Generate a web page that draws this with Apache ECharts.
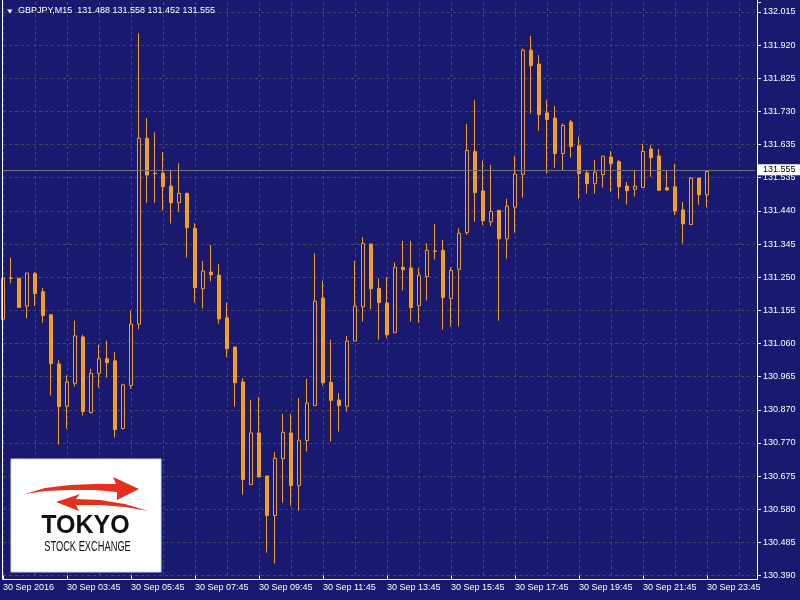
<!DOCTYPE html>
<html><head><meta charset="utf-8">
<style>html,body{margin:0;padding:0;background:#191970;}#c{width:800px;height:600px;}</style>
<script src="https://cdn.jsdelivr.net/npm/echarts@6.0.0/dist/echarts.min.js"></script>
</head><body><div id="c"></div>
<script>
const symbol = 'GBPJPY';
const period = 'M15';
const times = [
'30 Sep 01:45',
'30 Sep 02:00','30 Sep 02:15','30 Sep 02:30','30 Sep 02:45',
'30 Sep 03:00','30 Sep 03:15','30 Sep 03:30','30 Sep 03:45',
'30 Sep 04:00','30 Sep 04:15','30 Sep 04:30','30 Sep 04:45',
'30 Sep 05:00','30 Sep 05:15','30 Sep 05:30','30 Sep 05:45',
'30 Sep 06:00','30 Sep 06:15','30 Sep 06:30','30 Sep 06:45',
'30 Sep 07:00','30 Sep 07:15','30 Sep 07:30','30 Sep 07:45',
'30 Sep 08:00','30 Sep 08:15','30 Sep 08:30','30 Sep 08:45',
'30 Sep 09:00','30 Sep 09:15','30 Sep 09:30','30 Sep 09:45',
'30 Sep 10:00','30 Sep 10:15','30 Sep 10:30','30 Sep 10:45',
'30 Sep 11:00','30 Sep 11:15','30 Sep 11:30','30 Sep 11:45',
'30 Sep 12:00','30 Sep 12:15','30 Sep 12:30','30 Sep 12:45',
'30 Sep 13:00','30 Sep 13:15','30 Sep 13:30','30 Sep 13:45',
'30 Sep 14:00','30 Sep 14:15','30 Sep 14:30','30 Sep 14:45',
'30 Sep 15:00','30 Sep 15:15','30 Sep 15:30','30 Sep 15:45',
'30 Sep 16:00','30 Sep 16:15','30 Sep 16:30','30 Sep 16:45',
'30 Sep 17:00','30 Sep 17:15','30 Sep 17:30','30 Sep 17:45',
'30 Sep 18:00','30 Sep 18:15','30 Sep 18:30','30 Sep 18:45',
'30 Sep 19:00','30 Sep 19:15','30 Sep 19:30','30 Sep 19:45',
'30 Sep 20:00','30 Sep 20:15','30 Sep 20:30','30 Sep 20:45',
'30 Sep 21:00','30 Sep 21:15','30 Sep 21:30','30 Sep 21:45',
'30 Sep 22:00','30 Sep 22:15','30 Sep 22:30','30 Sep 22:45',
'30 Sep 23:00','30 Sep 23:15','30 Sep 23:30','30 Sep 23:45'
];
const opens = [
131.129,131.247,131.247,131.167,131.260,131.208,131.142,131.000,130.878,130.944,
131.078,130.860,130.973,131.015,131.009,130.814,130.938,131.115,131.651,131.550,
131.550,131.513,131.465,131.492,131.391,131.217,131.265,131.256,131.133,131.049,
130.948,130.652,130.801,130.677,130.563,130.727,130.801,130.649,130.779,130.880,
131.190,130.947,130.896,130.878,131.066,131.165,131.346,131.218,131.176,131.090,
131.279,131.277,131.168,131.252,131.325,131.328,131.189,131.273,131.379,131.613,
131.499,131.410,131.443,131.361,131.452,131.547,131.905,131.865,131.724,131.709,
131.607,131.698,131.629,131.551,131.520,131.546,131.597,131.583,131.513,131.504,
131.509,131.620,131.600,131.508,131.511,131.444,131.402,131.536,131.488
];
const closes = [
131.247,131.248,131.163,131.262,131.203,131.140,131.001,130.877,130.948,131.081,
130.863,130.973,131.015,131.004,130.811,130.940,131.115,131.651,131.545,131.549,
131.511,131.465,131.492,131.393,131.220,131.268,131.257,131.130,131.044,130.946,
130.667,130.801,130.675,130.563,130.728,130.803,130.649,130.780,130.887,131.181,
130.946,130.895,130.880,131.066,131.167,131.348,131.217,131.177,131.084,131.279,
131.272,131.163,131.256,131.328,131.326,131.192,131.270,131.377,131.616,131.494,
131.413,131.440,131.361,131.455,131.548,131.905,131.860,131.719,131.705,131.607,
131.688,131.627,131.549,131.520,131.553,131.599,131.578,131.511,131.500,131.513,
131.613,131.595,131.501,131.502,131.441,131.404,131.536,131.488,131.555
];
const lows = [
131.118,131.233,131.162,131.132,131.167,131.119,130.909,130.767,130.813,130.935,
130.851,130.857,130.932,130.961,130.788,130.811,130.928,131.100,131.465,131.465,
131.442,131.405,131.439,131.307,131.177,131.160,131.238,131.116,131.020,130.877,
130.623,130.652,130.672,130.456,130.425,130.600,130.591,130.577,130.748,130.880,
130.937,130.776,130.805,130.863,131.066,131.122,131.158,131.070,131.074,131.090,
131.212,131.122,131.119,131.183,131.301,131.099,131.108,131.108,131.372,131.410,
131.401,131.398,131.125,131.304,131.379,131.480,131.722,131.673,131.549,131.566,
131.558,131.595,131.476,131.491,131.491,131.509,131.497,131.476,131.460,131.483,
131.508,131.540,131.499,131.499,131.430,131.347,131.402,131.459,131.452
];
const highs = [
131.254,131.306,131.248,131.262,131.265,131.219,131.142,131.012,130.967,131.125,
131.084,130.986,131.055,131.067,131.035,130.943,131.153,131.954,131.709,131.668,
131.611,131.560,131.579,131.494,131.406,131.297,131.343,131.288,131.177,131.049,
130.959,130.897,130.905,130.677,130.746,130.856,130.856,130.902,130.957,131.319,
131.240,131.070,130.916,131.081,131.297,131.366,131.347,131.247,131.251,131.293,
131.355,131.355,131.277,131.348,131.404,131.358,131.279,131.391,131.692,131.761,
131.586,131.574,131.444,131.476,131.600,131.910,131.946,131.891,131.761,131.744,
131.694,131.704,131.655,131.560,131.588,131.600,131.614,131.588,131.525,131.557,
131.635,131.632,131.620,131.557,131.577,131.467,131.539,131.537,131.558
];
const yTickLabels = ['130.390','130.485','130.580','130.675','130.770','130.870','130.965','131.060','131.155',
  '131.250','131.345','131.440','131.535','131.635','131.730','131.825','131.920','132.015'];
const xTickLabels = ['30 Sep 2016','30 Sep 03:45','30 Sep 05:45','30 Sep 07:45','30 Sep 09:45','30 Sep 11:45',
  '30 Sep 13:45','30 Sep 15:45','30 Sep 17:45','30 Sep 19:45','30 Sep 21:45','30 Sep 23:45'];

// ---- layout / style ----
const BG = '#191970', ORANGE = '#F5A21B', GRIDC = '#4a4a48', FONT = '"Liberation Sans", Arial, sans-serif';
const GRID_TOP = 2, GRID_BOT_Y = 575.5, TOP_TICK_Y = 12;
const STEP_PX = (GRID_BOT_Y - TOP_TICK_Y) / (yTickLabels.length - 1);
const PAD_BARS = 6;
const nT = yTickLabels.length - 1;
const baseP = parseFloat(yTickLabels[0]);
const stepP = (parseFloat(yTickLabels[nT]) - baseP) / nT;
const stepsTop = (GRID_BOT_Y - GRID_TOP) / STEP_PX;

const cats = times.concat(new Array(PAD_BARS).fill(''));
const ohlc = opens.map((o, i) => [o, closes[i], lows[i], highs[i]]);
const last = opens.length - 1;
const header = symbol + ',' + period + '  ' + opens[last].toFixed(3) + ' ' + highs[last].toFixed(3) + ' ' +
  lows[last].toFixed(3) + ' ' + closes[last].toFixed(3);
const RED = '#E5301F', INK = '#111111', ZL = 100;

const chart = echarts.init(document.getElementById('c'), null, {renderer: 'canvas'});
chart.setOption({
  backgroundColor: BG,
  animation: false,
  grid: {left: 3, right: 45, top: GRID_TOP, bottom: 600 - GRID_BOT_Y, containLabel: false},
  xAxis: {
    type: 'category', data: cats, boundaryGap: false, offset: 4,
    axisLine: {show: false},
    axisTick: {show: true, interval: 7, length: 4, lineStyle: {color: '#fff', width: 1}},
    axisLabel: {interval: 7, align: 'left', margin: 4, color: '#fff', fontSize: 9, fontFamily: FONT,
      formatter: (v, i) => (i % 8 === 0 && xTickLabels[i / 8] !== undefined) ? xTickLabels[i / 8] : ''},
    splitLine: {show: true, interval: 3, lineStyle: {color: GRIDC, type: [3, 3], width: 1}}
  },
  yAxis: [
    {type: 'value', min: baseP, max: baseP + stepP * stepsTop, position: 'left',
      axisLine: {show: false}, axisTick: {show: false}, axisLabel: {show: false}, splitLine: {show: false}},
    {type: 'value', min: 0, max: stepsTop, interval: 1, position: 'right', offset: 2,
      axisLine: {show: false},
      axisTick: {show: true, length: 4, lineStyle: {color: '#fff'}},
      axisLabel: {margin: 6, color: '#fff', fontSize: 9, fontFamily: FONT,
        formatter: v => { const r = Math.round(v); return (Math.abs(v - r) < 1e-6 && yTickLabels[r]) ? yTickLabels[r] : ''; }},
      splitLine: {show: true, showMaxLine: false, lineStyle: {color: GRIDC, type: [3, 3], width: 1}}}
  ],
  series: [{
    type: 'candlestick', data: ohlc, xAxisIndex: 0, yAxisIndex: 0, barWidth: 4, clip: false,
    itemStyle: {color: BG, color0: ORANGE, borderColor: ORANGE, borderColor0: ORANGE, borderWidth: 1},
    markLine: {
      symbol: 'none', silent: true, animation: false,
      data: [{yAxis: closes[last]}],
      lineStyle: {color: '#70707e', type: 'solid', width: 1},
      label: {position: 'end', formatter: closes[last].toFixed(3), backgroundColor: '#fff', color: '#000',
        fontSize: 9, fontFamily: FONT, padding: [1, 6, 1, 5], distance: 3, lineHeight: 9}
    }
  }],
  graphic: [
    {type: 'polyline', z: ZL, shape: {points: [[2.5, 0], [2.5, 579.5], [757.5, 579.5], [757.5, 0]]},
      style: {stroke: '#fff', lineWidth: 1, fill: null}},
    {type: 'polygon', z: ZL, shape: {points: [[7, 9.5], [12.5, 9.5], [9.75, 13.5]]}, style: {fill: '#fff'}},
    {type: 'text', z: ZL, x: 18, y: 11, style: {text: header, fill: '#fff', font: '9px ' + FONT,
      align: 'left', verticalAlign: 'middle', textAlign: 'left', textVerticalAlign: 'middle'}},
    {type: 'rect', z: ZL, shape: {x: 11, y: 459, width: 150, height: 113}, style: {fill: '#fff', stroke: '#d9d9d9', lineWidth: 1}},
    {type: 'polygon', z: ZL + 1, shape: {points: [[25, 494], [45, 488], [70, 485], [95, 484], [116, 484], [113, 477], [139, 489],
      [117, 500], [117, 492], [95, 490], [70, 490], [45, 491]]}, style: {fill: RED}},
    {type: 'polygon', z: ZL + 1, shape: {points: [[56, 502], [80, 494], [76, 499], [100, 500], [125, 504], [148, 511],
      [125, 507], [100, 505], [76, 505], [79, 511]]}, style: {fill: RED}},
    {type: 'text', z: ZL + 1, x: 85.5, y: 526, style: {text: 'TOKYO', fill: INK, font: 'bold 25px ' + FONT,
      align: 'center', verticalAlign: 'middle', textAlign: 'center', textVerticalAlign: 'middle'}},
    {type: 'text', z: ZL + 1, x: 87.5, y: 546.5, scaleX: 0.62, style: {text: 'STOCK EXCHANGE', fill: INK, font: '15px ' + FONT,
      align: 'center', verticalAlign: 'middle', textAlign: 'center', textVerticalAlign: 'middle'}}
  ]
});
</script></body></html>
